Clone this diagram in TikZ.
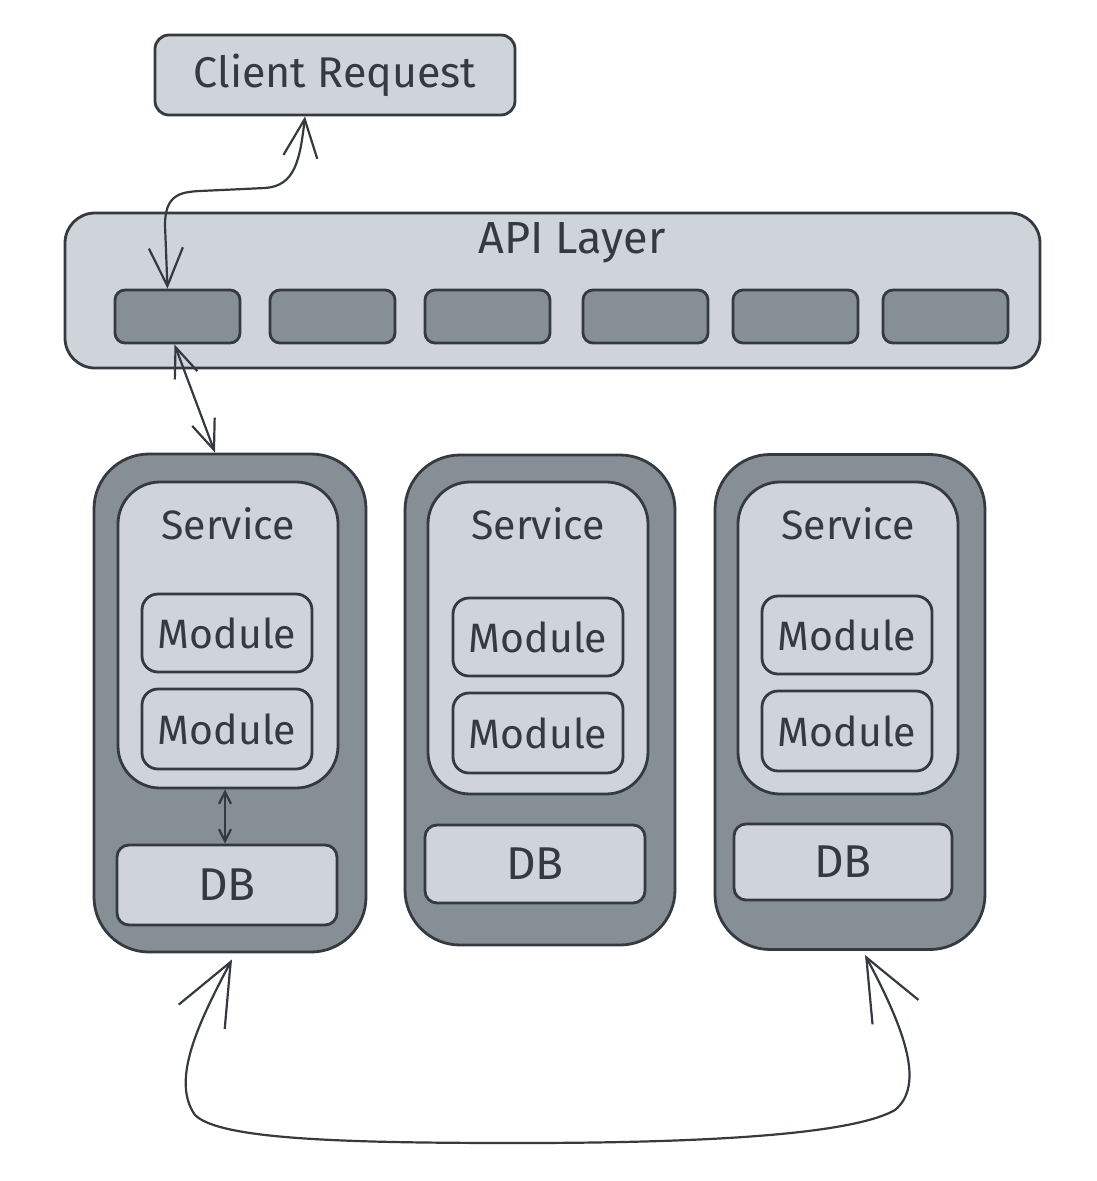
\documentclass[tikz,border=0pt]{standalone}
\usepackage{fontspec}
\setmainfont{Fira Sans}
\usetikzlibrary{arrows.meta,calc}
\definecolor{ink}{HTML}{343A40}
\definecolor{lightg}{HTML}{CED4DA}
\definecolor{darkg}{HTML}{868E96}
\begin{document}
\begin{tikzpicture}[x=1pt,y=-1pt,
  lbox/.style={draw=ink, fill=lightg, line width=2.8pt, inner sep=0pt, text=ink},
  dbox/.style={draw=ink, fill=darkg, line width=2.8pt, inner sep=0pt},
  lbl/.style={text=ink, font=\fontsize{41}{46}\selectfont},
  conn/.style={draw=ink, line width=2.2pt, line cap=round},
  tipbig/.style={{Straight Barb[length=38pt,width=34pt]}-{Straight Barb[length=38pt,width=34pt]}},
  tipmid/.style={{Straight Barb[length=30pt,width=24pt]}-{Straight Barb[length=30pt,width=24pt]}},
  tipsmall/.style={{Straight Barb[length=12pt,width=12pt]}-{Straight Barb[length=12pt,width=12pt]}},
  tiphuge/.style={{Straight Barb[length=62pt,width=52pt]}-{Straight Barb[length=62pt,width=52pt]}},
]
\useasboundingbox (0,0) rectangle (1097,1181);

% Client request
\node[lbox, rounded corners=14pt, minimum width=360pt, minimum height=80pt, font=\fontsize{43}{46}\selectfont] (cr) at (335,75) {Client Request};

% API layer
\node[lbox, rounded corners=30pt, minimum width=975pt, minimum height=155pt] (api) at (552.5,290.5) {};
\node[lbl, font=\fontsize{45}{50}\selectfont] (apil) at (572,243) {API Layer};
\foreach \n/\x in {1/177.5,2/332.5,3/487.5,4/645.5,5/795.5,6/945.5}{
  \node[dbox, rounded corners=10pt, minimum width=125pt, minimum height=53pt] (a\n) at (\x,316.5) {};
}

% Services
\node[dbox, rounded corners=55pt, minimum width=272pt, minimum height=498pt] (s1) at (230,703) {};
\node[dbox, rounded corners=55pt, minimum width=270pt, minimum height=490pt] (s2) at (540,700) {};
\node[dbox, rounded corners=55pt, minimum width=270pt, minimum height=495pt] (s3) at (850,702) {};

\node[lbox, rounded corners=42pt, minimum width=220pt, minimum height=306pt] (i1) at (228,635) {};
\node[lbox, rounded corners=42pt, minimum width=220pt, minimum height=312pt] (i2) at (538,638) {};
\node[lbox, rounded corners=42pt, minimum width=220pt, minimum height=312pt] (i3) at (848,638) {};

\node[lbl] (t1) at (228,524) {Service};
\node[lbl] (t2) at (538,524) {Service};
\node[lbl] (t3) at (848,524) {Service};

\node[lbox, lbl, rounded corners=16pt, minimum width=170pt, minimum height=78pt] (m11) at (227,633) {Module};
\node[lbox, lbl, rounded corners=16pt, minimum width=170pt, minimum height=80pt] (m12) at (227,729) {Module};
\node[lbox, lbl, rounded corners=16pt, minimum width=170pt, minimum height=78pt] (m21) at (538,637) {Module};
\node[lbox, lbl, rounded corners=16pt, minimum width=170pt, minimum height=80pt] (m22) at (538,733) {Module};
\node[lbox, lbl, rounded corners=16pt, minimum width=170pt, minimum height=78pt] (m31) at (847,635) {Module};
\node[lbox, lbl, rounded corners=16pt, minimum width=170pt, minimum height=80pt] (m32) at (847,731) {Module};

\node[lbox, lbl, font=\fontsize{46}{50}\selectfont, rounded corners=12pt, minimum width=220pt, minimum height=80pt] (d1) at (227,885) {DB};
\node[lbox, lbl, font=\fontsize{46}{50}\selectfont, rounded corners=12pt, minimum width=220pt, minimum height=78pt] (d2) at (535,864) {DB};
\node[lbox, lbl, font=\fontsize{46}{50}\selectfont, rounded corners=12pt, minimum width=218pt, minimum height=76pt] (d3) at (843,862) {DB};

% connectors
\draw[conn, tipbig] ($(a1.north)+(-10,0)$) -- (165,225) .. controls (165,195) and (180,192) .. (200,191) -- (265,188) .. controls (295,186) and (300,160) .. ($(cr.south)+(-30,0)$);
\draw[conn, tipmid] ($(a1.south)+(-3,0)$) -- ($(s1.north)+(-15,0)$);
\draw[conn, tipsmall] ($(i1.south)+(-3,0)$) -- ($(d1.north)+(-2,0)$);
\draw[conn, tiphuge] ($(s1.south)+(2,6)$) .. controls (200,1020) and (170,1080) .. (195,1115) .. controls (220,1140) and (350,1143) .. (520,1143) .. controls (750,1143) and (860,1130) .. (895,1110) .. controls (925,1085) and (905,1030) .. ($(s3.south)+(15,4)$);
\end{tikzpicture}
\end{document}
